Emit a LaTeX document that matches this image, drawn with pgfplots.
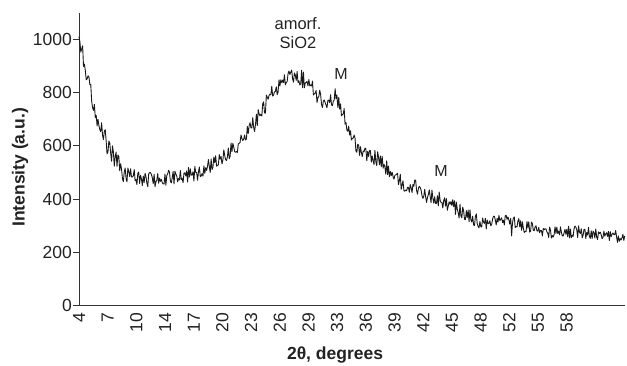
\documentclass[border=0pt]{standalone}
\usepackage{fontspec}
\setmainfont{Liberation Sans}
\usepackage{pgfplots}
\pgfplotsset{compat=1.18}

\definecolor{axisgray}{HTML}{333333}
\definecolor{txt}{HTML}{222222}

% measured diffractogram (2theta in degrees, intensity in a.u.)
\pgfplotstableread{
x y
4.0 1010
4.1 991
4.2 952
4.3 964
4.4 976
4.5 898
4.6 907
4.7 882
4.8 848
4.9 852
5.0 863
5.1 859
5.2 830
5.3 831
5.4 768
5.5 743
5.6 733
5.7 756
5.8 706
5.9 715
6.0 675
6.1 700
6.2 676
6.3 661
6.4 653
6.5 687
6.6 640
6.7 624
6.8 655
6.9 661
7.0 619
7.1 570
7.2 577
7.3 618
7.4 611
7.5 573
7.6 542
7.7 600
7.8 577
7.9 524
8.0 559
8.1 577
8.2 523
8.3 566
8.4 560
8.5 507
8.6 533
8.7 513
8.8 477
8.9 466
9.0 501
9.1 517
9.2 479
9.3 465
9.4 517
9.5 504
9.6 485
9.7 514
9.8 483
9.9 483
10.0 488
10.1 511
10.2 469
10.3 474
10.4 455
10.5 497
10.6 502
10.7 459
10.8 489
10.9 476
11.0 451
11.1 487
11.2 462
11.3 497
11.4 485
11.5 460
11.6 447
11.7 495
11.8 500
11.9 499
12.0 493
12.1 481
12.2 458
12.3 494
12.4 447
12.5 465
12.6 471
12.7 496
12.8 460
12.9 479
13.0 467
13.1 474
13.2 462
13.3 457
13.4 457
13.5 494
13.6 452
13.7 489
13.8 495
13.9 508
14.0 502
14.1 467
14.2 461
14.3 480
14.4 504
14.5 457
14.6 505
14.7 494
14.8 488
14.9 465
15.0 477
15.1 472
15.2 508
15.3 473
15.4 479
15.5 462
15.6 498
15.7 499
15.8 487
15.9 506
16.0 464
16.1 519
16.2 483
16.3 514
16.4 490
16.5 491
16.6 503
16.7 468
16.8 523
16.9 500
17.0 500
17.1 471
17.2 502
17.3 521
17.4 485
17.5 487
17.6 496
17.7 486
17.8 525
17.9 497
18.0 518
18.1 508
18.2 523
18.3 549
18.4 522
18.5 500
18.6 551
18.7 511
18.8 520
18.9 558
19.0 537
19.1 563
19.2 524
19.3 526
19.4 529
19.5 567
19.6 551
19.7 560
19.8 532
19.9 547
20.0 585
20.1 564
20.2 548
20.3 545
20.4 559
20.5 592
20.6 552
20.7 561
20.8 611
20.9 578
21.0 610
21.1 595
21.2 579
21.3 576
21.4 579
21.5 575
21.6 608
21.7 610
21.8 613
21.9 641
22.0 628
22.1 620
22.2 625
22.3 641
22.4 622
22.5 626
22.6 673
22.7 647
22.8 676
22.9 687
23.0 668
23.1 667
23.2 706
23.3 670
23.4 654
23.5 680
23.6 719
23.7 676
23.8 736
23.9 720
24.0 713
24.1 719
24.2 712
24.3 759
24.4 765
24.5 724
24.6 723
24.7 791
24.8 783
24.9 775
25.0 789
25.1 794
25.2 792
25.3 824
25.4 787
25.5 791
25.6 802
25.7 805
25.8 822
25.9 792
26.0 803
26.1 848
26.2 825
26.3 848
26.4 837
26.5 847
26.6 837
26.7 867
26.8 829
26.9 838
27.0 841
27.1 871
27.2 881
27.3 868
27.4 877
27.5 885
27.6 852
27.7 839
27.8 874
27.9 866
28.0 846
28.1 879
28.2 838
28.3 844
28.4 829
28.5 832
28.6 884
28.7 818
28.8 877
28.9 818
29.0 836
29.1 838
29.2 842
29.3 825
29.4 849
29.5 825
29.6 829
29.7 825
29.8 843
29.9 791
30.0 795
30.1 798
30.2 808
30.3 763
30.4 781
30.5 785
30.6 809
30.7 792
30.8 755
30.9 744
31.0 769
31.1 772
31.2 763
31.3 753
31.4 743
31.5 771
31.6 772
31.7 762
31.8 792
31.9 754
32.0 751
32.1 768
32.2 772
32.3 815
32.4 776
32.5 791
32.6 744
32.7 782
32.8 738
32.9 758
33.0 713
33.1 717
33.2 720
33.3 740
33.4 681
33.5 688
33.6 659
33.7 655
33.8 674
33.9 641
34.0 657
34.1 622
34.2 628
34.3 629
34.4 641
34.5 629
34.6 581
34.7 576
34.8 606
34.9 603
35.0 564
35.1 597
35.2 575
35.3 560
35.4 581
35.5 578
35.6 592
35.7 589
35.8 544
35.9 579
36.0 560
36.1 583
36.2 582
36.3 539
36.4 562
36.5 543
36.6 530
36.7 583
36.8 540
36.9 526
37.0 578
37.1 557
37.2 529
37.3 562
37.4 522
37.5 561
37.6 516
37.7 531
37.8 521
37.9 494
38.0 544
38.1 492
38.2 524
38.3 484
38.4 504
38.5 488
38.6 501
38.7 485
38.8 475
38.9 489
39.0 491
39.1 494
39.2 497
39.3 454
39.4 470
39.5 493
39.6 437
39.7 453
39.8 469
39.9 432
40.0 430
40.1 434
40.2 432
40.3 444
40.4 444
40.5 426
40.6 455
40.7 443
40.8 425
40.9 455
41.0 448
41.1 472
41.2 471
41.3 433
41.4 419
41.5 440
41.6 448
41.7 444
41.8 434
41.9 413
42.0 403
42.1 411
42.2 437
42.3 410
42.4 388
42.5 406
42.6 417
42.7 435
42.8 411
42.9 387
43.0 434
43.1 404
43.2 385
43.3 409
43.4 384
43.5 384
43.6 413
43.7 375
43.8 427
43.9 396
44.0 388
44.1 387
44.2 367
44.3 395
44.4 405
44.5 374
44.6 402
44.7 358
44.8 374
44.9 390
45.0 381
45.1 391
45.2 376
45.3 398
45.4 372
45.5 394
45.6 343
45.7 389
45.8 362
45.9 349
46.0 329
46.1 381
46.2 337
46.3 330
46.4 370
46.5 356
46.6 324
46.7 323
46.8 357
46.9 331
47.0 359
47.1 315
47.2 360
47.3 322
47.4 314
47.5 336
47.6 303
47.7 301
47.8 335
47.9 345
48.0 308
48.1 298
48.2 292
48.3 316
48.4 296
48.5 296
48.6 329
48.7 314
48.8 309
48.9 328
49.0 288
49.1 322
49.2 308
49.3 309
49.4 319
49.5 300
49.6 306
49.7 325
49.8 336
49.9 336
50.0 322
50.1 303
50.2 328
50.3 314
50.4 339
50.5 319
50.6 325
50.7 330
50.8 312
50.9 321
51.0 303
51.1 338
51.2 339
51.3 324
51.4 333
51.5 322
51.6 306
51.7 328
51.8 262
51.9 311
52.0 329
52.1 333
52.2 293
52.3 297
52.4 296
52.5 318
52.6 327
52.7 296
52.8 319
52.9 283
53.0 315
53.1 290
53.2 275
53.3 279
53.4 278
53.5 316
53.6 292
53.7 315
53.8 276
53.9 280
54.0 314
54.1 308
54.2 283
54.3 282
54.4 296
54.5 300
54.6 281
54.7 280
54.8 294
54.9 274
55.0 283
55.1 282
55.2 262
55.3 290
55.4 285
55.5 289
55.6 288
55.7 278
55.8 272
55.9 256
56.0 295
56.1 284
56.2 254
56.3 263
56.4 258
56.5 267
56.6 296
56.7 271
56.8 295
56.9 271
57.0 280
57.1 266
57.2 296
57.3 276
57.4 262
57.5 262
57.6 273
57.7 287
57.8 268
57.9 287
58.0 259
58.1 298
58.2 254
58.3 288
58.4 255
58.5 265
58.6 260
58.7 289
58.8 299
58.9 295
59.0 285
59.1 256
59.2 300
59.3 276
59.4 271
59.5 289
59.6 255
59.7 264
59.8 287
59.9 287
60.0 252
60.1 275
60.2 265
60.3 294
60.4 259
60.5 253
60.6 281
60.7 252
60.8 280
60.9 274
61.0 254
61.1 288
61.2 258
61.3 248
61.4 277
61.5 271
61.6 276
61.7 266
61.8 252
61.9 256
62.0 280
62.1 261
62.2 270
62.3 274
62.4 260
62.5 279
62.6 245
62.7 278
62.8 259
62.9 268
63.0 273
63.1 267
63.2 267
63.3 282
63.4 258
63.5 238
63.6 262
63.7 242
63.8 252
63.9 247
64.0 255
64.1 268
64.2 245
64.3 262
}\xrd

\begin{document}
\begin{tikzpicture}
\begin{axis}[
  scale only axis,
  width=546pt, height=293pt,
  xmin=4, xmax=64.33,
  ymin=0, ymax=1100,
  clip=false,
  axis lines=left,
  axis line style={-, draw=axisgray, line width=0.9pt},
  xtick={4,7.17,10.34,13.51,16.68,19.85,23.02,26.19,29.36,32.53,35.70,38.87,42.04,45.21,48.38,51.55,54.72,57.89},
  xticklabels={4,7,10,14,17,20,23,26,29,33,36,39,42,45,48,52,55,58},
  xtick style={draw=none},
  xticklabel style={rotate=90, anchor=east, font=\fontsize{17.5}{20}\selectfont, text=txt, inner sep=1pt},
  ytick={0,200,400,600,800,1000},
  yticklabels={0,200,400,600,800,1000},
  ytick style={draw=axisgray, line width=0.8pt},
  tick align=outside,
  major tick length=6pt,
  yticklabel style={font=\fontsize{17.5}{20}\selectfont, text=txt, inner sep=1pt},
  xlabel={2θ, degrees},
  ylabel={Intensity (a.u.)},
  xlabel style={at={(axis description cs:0.469,-0.168)}, anchor=center, font=\bfseries\fontsize{17.5}{21}\selectfont, text=txt},
  ylabel style={at={(axis description cs:-0.108,0.472)}, anchor=center, font=\bfseries\fontsize{17.5}{21}\selectfont, text=txt},
]
% broad amorphous silica halo with weak M reflections
\addplot[black!90, line width=0.9pt, line join=round] table[x=x, y=y] {\xrd};
\node[font=\fontsize{16.5}{19}\selectfont, text=txt, align=center] at (axis cs:28.2,1024) {amorf.\\SiO2};
\node[font=\fontsize{16}{19}\selectfont, text=txt] at (axis cs:32.95,870) {M};
\node[font=\fontsize{16}{19}\selectfont, text=txt] at (axis cs:44.0,506) {M};
\end{axis}
\pgfresetboundingbox
\path[use as bounding box] (-79pt,-59.3pt) rectangle (548pt,305.7pt);
\end{tikzpicture}
\end{document}
